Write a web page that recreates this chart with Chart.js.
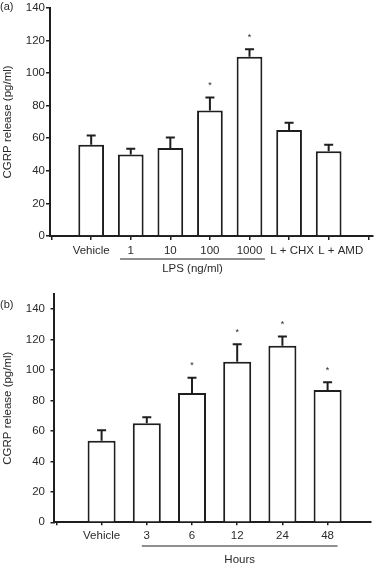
<!DOCTYPE html>
<html>
<head>
<meta charset="utf-8">
<script src="https://cdn.jsdelivr.net/npm/chart.js@4.4.1/dist/chart.umd.min.js"></script>
<style>
  html, body { margin: 0; padding: 0; background: #fff; }
  .panel { position: absolute; left: 0; width: 375px; }
  #panelA { top: 0; height: 280px; }
  #panelB { top: 280px; height: 287px; }
</style>
</head>
<body>
<div class="panel" id="panelA"><canvas id="chartA"></canvas></div>
<div class="panel" id="panelB"><canvas id="chartB"></canvas></div>
<script>
// (a) LPS dose response
const labelsA = ['Vehicle', '1', '10', '100', '1000', 'L + CHX', 'L + AMD']
const valuesA = [56, 50, 54, 77, 110, 65, 52]
const semA    = [5.7, 3.5, 6.5, 8, 4.6, 4.5, 4]
const starsA  = [false, false, false, true, true, false, false]

// (b) time course
const labelsB = ['Vehicle', '3', '6', '12', '24', '48']
const valuesB = [53.5, 65, 85, 105.5, 116, 87]
const semB    = [7, 4, 10, 11.5, 6, 5]
const starsB  = [false, false, true, true, true, true]

const yTicks = [0, 20, 40, 60, 80, 100, 120, 140]

const INK  = '#1e1e1e'
const TEXT = '#2a2a2a'
const FONT = "'Liberation Sans', Arial, Helvetica, sans-serif"

// error bars, asterisks, nudged tick labels, group underline + label, panel tag
const extras = {
  id: 'extras',
  afterDatasetsDraw(chart, args, opts) {
    const { ctx } = chart
    const xs = chart.scales.x, ys = chart.scales.y
    const ds = chart.data.datasets[0]
    const meta = chart.getDatasetMeta(0)
    ctx.save()
    ctx.strokeStyle = INK
    ctx.fillStyle = TEXT
    ctx.lineWidth = 2
    meta.data.forEach((bar, i) => {
      const top = ys.getPixelForValue(ds.data[i].y + opts.sem[i])
      ctx.beginPath()
      ctx.moveTo(bar.x, bar.y)
      ctx.lineTo(bar.x, top)
      ctx.moveTo(bar.x - 4.5, top)
      ctx.lineTo(bar.x + 4.5, top)
      ctx.stroke()
      if (opts.stars[i]) {
        ctx.font = '9px ' + FONT
        ctx.textAlign = 'center'
        ctx.textBaseline = 'alphabetic'
        ctx.fillText('*', bar.x, top - 9.5)
      }
    })

    // tick labels that sit off their tick in the original
    ctx.font = '11.5px ' + FONT
    ctx.textAlign = 'center'
    ctx.textBaseline = 'middle'
    Object.entries(opts.nudge).forEach(([idx, dx]) => {
      const i = Number(idx)
      ctx.fillText(opts.labels[i - 1], xs.getPixelForValue(i) + dx, xs.top + opts.labelY)
    })

    const g = opts.group
    const gy = xs.top + g.line
    const x1 = xs.getPixelForValue(g.from), x2 = xs.getPixelForValue(g.to)
    ctx.lineWidth = 1
    ctx.beginPath()
    ctx.moveTo(x1, gy)
    ctx.lineTo(x2, gy)
    ctx.stroke()
    ctx.fillText(g.label, (x1 + x2) / 2, xs.top + g.text)

    ctx.font = '11px ' + FONT
    ctx.textAlign = 'left'
    ctx.fillText(opts.tag, 0, opts.tagY)
    ctx.restore()
  }
}

function buildPanel(canvasId, labels, values, sem, stars, cfg) {
  const ctx = document.getElementById(canvasId)?.getContext('2d')
  if (!ctx) return null
  const font = { family: FONT, size: 11.5 }
  return new Chart(ctx, {
    type: 'bar',
    data: {
      datasets: [{
        data: labels.map((l, i) => ({ x: i + 1, y: values[i] })),
        backgroundColor: '#ffffff',
        borderColor: INK,
        borderWidth: 2,
        barPercentage: 1,
        categoryPercentage: cfg.barPct,
      }],
    },
    options: {
      responsive: true,
      maintainAspectRatio: false,
      animation: false,
      events: [],
      layout: { padding: { top: cfg.padTop, right: cfg.padRight, left: 0, bottom: 0 } },
      plugins: {
        legend: { display: false },
        tooltip: { enabled: false },
        extras: { sem, stars, labels, nudge: cfg.nudge, labelY: cfg.labelY,
                  group: cfg.group, tag: cfg.tag, tagY: cfg.tagY },
      },
      scales: {
        x: {
          type: 'linear',
          min: cfg.xMin,
          max: cfg.xMax,
          bounds: 'data',
          offset: false,
          grid: { display: true, offset: false, drawOnChartArea: false, drawTicks: true,
                  tickLength: cfg.xTickLen, color: INK, lineWidth: 1.5 },
          border: { display: true, color: INK, width: 2 },
          ticks: {
            stepSize: 1, precision: 0, includeBounds: false, autoSkip: false,
            maxRotation: 0, minRotation: 0, padding: 4, color: TEXT, font,
            callback: v => (v in cfg.nudge ? '' : labels[v - 1] ?? ''),
          },
          afterFit: s => { s.height = cfg.xHeight },
        },
        y: {
          min: 0,
          max: cfg.yMax,
          bounds: 'data',
          grid: { display: true, drawOnChartArea: false, drawTicks: true,
                  tickLength: cfg.yTickLen, color: INK, lineWidth: 1.5 },
          border: { display: true, color: INK, width: 2 },
          ticks: { padding: cfg.yPad, color: TEXT, font },
          afterBuildTicks: s => { s.ticks = yTicks.map(value => ({ value })) },
          title: { display: true, text: 'CGRP release (pg/ml)', color: TEXT, font,
                   padding: { top: 1, bottom: 0 } },
          afterFit: s => { s.width = cfg.yWidth },
        },
      },
    },
    plugins: [extras],
  })
}

buildPanel('chartA', labelsA, valuesA, semA, starsA, {
  yMax: 140, yWidth: 50, yTickLen: 4, yPad: 1,
  xMin: -0.04, xMax: 8.12, xHeight: 44, xTickLen: 4,
  padTop: 7, padRight: 2, barPct: 0.65,
  nudge: { 6: 3, 7: 12 }, labelY: 15,
  group: { label: 'LPS (ng/ml)', from: 1.73, to: 5.39, line: 23, text: 32.5 },
  tag: '(a)', tagY: 7,
})

buildPanel('chartB', labelsB, valuesB, semB, starsB, {
  yMax: 150, yWidth: 53.5, yTickLen: 3, yPad: 5.5,
  xMin: -0.064, xMax: 6.96, xHeight: 44.7, xTickLen: 3,
  padTop: 14, padRight: 4, barPct: 0.62,
  nudge: {}, labelY: 14.4,
  group: { label: 'Hours', from: 1.89, to: 6.22, line: 23.7, text: 37.7 },
  tag: '(b)', tagY: 25,
})
</script>
</body>
</html>
